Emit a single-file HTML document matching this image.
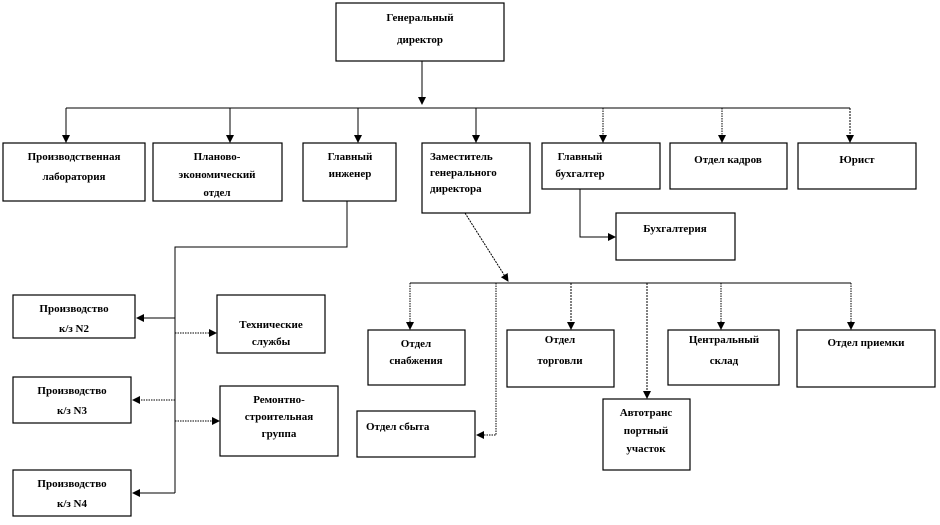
<!DOCTYPE html>
<html><head><meta charset="utf-8"><style>
html,body{margin:0;padding:0;background:#fff;}
svg text{font-family:"Liberation Serif","Noto Serif CJK SC",serif;font-weight:bold;font-size:11px;fill:#000;}
</style></head><body>
<svg width="940" height="520" viewBox="0 0 940 520" xmlns="http://www.w3.org/2000/svg">
<defs>
<marker id="a" markerWidth="8" markerHeight="8" refX="7" refY="4" orient="auto" markerUnits="userSpaceOnUse">
<path d="M0,0 L8,4 L0,8 z" fill="#000"/></marker>
</defs>
<g fill="#fff" stroke="#000" stroke-width="1.2">
<rect x="336" y="3" width="168" height="58"/>
<rect x="3" y="143" width="142" height="58"/>
<rect x="153" y="143" width="129" height="58"/>
<rect x="303" y="143" width="93" height="58"/>
<rect x="422" y="143" width="108" height="70"/>
<rect x="542" y="143" width="118" height="46"/>
<rect x="670" y="143" width="117" height="46"/>
<rect x="798" y="143" width="118" height="46"/>
<rect x="616" y="213" width="119" height="47"/>
<rect x="13" y="295" width="122" height="43"/>
<rect x="13" y="377" width="118" height="46"/>
<rect x="13" y="470" width="118" height="46"/>
<rect x="217" y="295" width="108" height="58"/>
<rect x="220" y="386" width="118" height="70"/>
<rect x="368" y="330" width="97" height="55"/>
<rect x="357" y="411" width="118" height="46"/>
<rect x="507" y="330" width="107" height="57"/>
<rect x="603" y="399" width="87" height="71"/>
<rect x="668" y="330" width="111" height="55"/>
<rect x="797" y="330" width="138" height="57"/>
</g>
<g stroke="#000" stroke-width="1" fill="none">
<line x1="422" y1="61" x2="422" y2="104" marker-end="url(#a)"/>
<line x1="66" y1="108" x2="850" y2="108"/>
<line x1="66" y1="108" x2="66" y2="142" marker-end="url(#a)"/>
<line x1="230" y1="108" x2="230" y2="142" marker-end="url(#a)"/>
<line x1="358" y1="108" x2="358" y2="142" marker-end="url(#a)"/>
<line x1="476" y1="108" x2="476" y2="142" marker-end="url(#a)"/>
<line x1="603" y1="108" x2="603" y2="142" marker-end="url(#a)" stroke-dasharray="1.5,1"/>
<line x1="722" y1="108" x2="722" y2="142" marker-end="url(#a)" stroke-dasharray="1.5,1"/>
<line x1="850" y1="108" x2="850" y2="142" marker-end="url(#a)" stroke-dasharray="2,1"/>
<polyline points="580,189 580,237 615,237" marker-end="url(#a)"/>
<polyline points="347,201 347,247 175,247 175,493"/>
<line x1="175" y1="318" x2="137" y2="318" marker-end="url(#a)"/>
<line x1="175" y1="333" x2="216" y2="333" marker-end="url(#a)" stroke-dasharray="1.5,1"/>
<line x1="175" y1="400" x2="133" y2="400" marker-end="url(#a)" stroke-dasharray="1.5,1"/>
<line x1="175" y1="421" x2="219" y2="421" marker-end="url(#a)" stroke-dasharray="1.5,1"/>
<line x1="175" y1="493" x2="133" y2="493" marker-end="url(#a)"/>
<line x1="465" y1="213" x2="508" y2="281" marker-end="url(#a)" stroke-dasharray="2,1"/>
<line x1="410" y1="283" x2="851" y2="283"/>
<line x1="410" y1="283" x2="410" y2="329" marker-end="url(#a)" stroke-dasharray="1.5,1"/>
<polyline points="496,283 496,435 477,435" marker-end="url(#a)" stroke-dasharray="1.5,1"/>
<line x1="571" y1="283" x2="571" y2="329" marker-end="url(#a)" stroke-dasharray="2,1"/>
<line x1="647" y1="283" x2="647" y2="398" marker-end="url(#a)" stroke-dasharray="2,1"/>
<line x1="721" y1="283" x2="721" y2="329" marker-end="url(#a)" stroke-dasharray="1.5,1"/>
<line x1="851" y1="283" x2="851" y2="329" marker-end="url(#a)" stroke-dasharray="1.5,1"/>
</g>
<g text-anchor="middle">
<text x="420" y="21">Генеральный</text><text x="420" y="43">директор</text>
<text x="74" y="160">Производственная</text><text x="74" y="180">лаборатория</text>
<text x="217" y="160">Планово-</text><text x="217" y="178">экономический</text><text x="217" y="196">отдел</text>
<text x="350" y="160">Главный</text><text x="350" y="177">инженер</text>
<text x="580" y="160">Главный</text><text x="580" y="177">бухгалтер</text>
<text x="728" y="163">Отдел кадров</text>
<text x="857" y="163">Юрист</text>
<text x="675" y="232">Бухгалтерия</text>
<text x="74" y="312">Производство</text><text x="74" y="332">к/з N2</text>
<text x="72" y="394">Производство</text><text x="72" y="414">к/з N3</text>
<text x="72" y="487">Производство</text><text x="72" y="507">к/з N4</text>
<text x="271" y="328">Технические</text><text x="271" y="345">службы</text>
<text x="279" y="403">Ремонтно-</text><text x="279" y="420">строительная</text><text x="279" y="437">группа</text>
<text x="416" y="347">Отдел</text><text x="416" y="364">снабжения</text>
<text x="560" y="343">Отдел</text><text x="560" y="364">торговли</text>
<text x="646" y="416">Автотранс</text><text x="646" y="434">портный</text><text x="646" y="452">участок</text>
<text x="724" y="343">Центральный</text><text x="724" y="364">склад</text>
<text x="866" y="346">Отдел приемки</text>
</g>
<g>
<text x="430" y="160">Заместитель</text><text x="430" y="176">генерального</text><text x="430" y="192">директора</text>
<text x="366" y="430">Отдел сбыта</text>
</g>
</svg>
</body></html>
